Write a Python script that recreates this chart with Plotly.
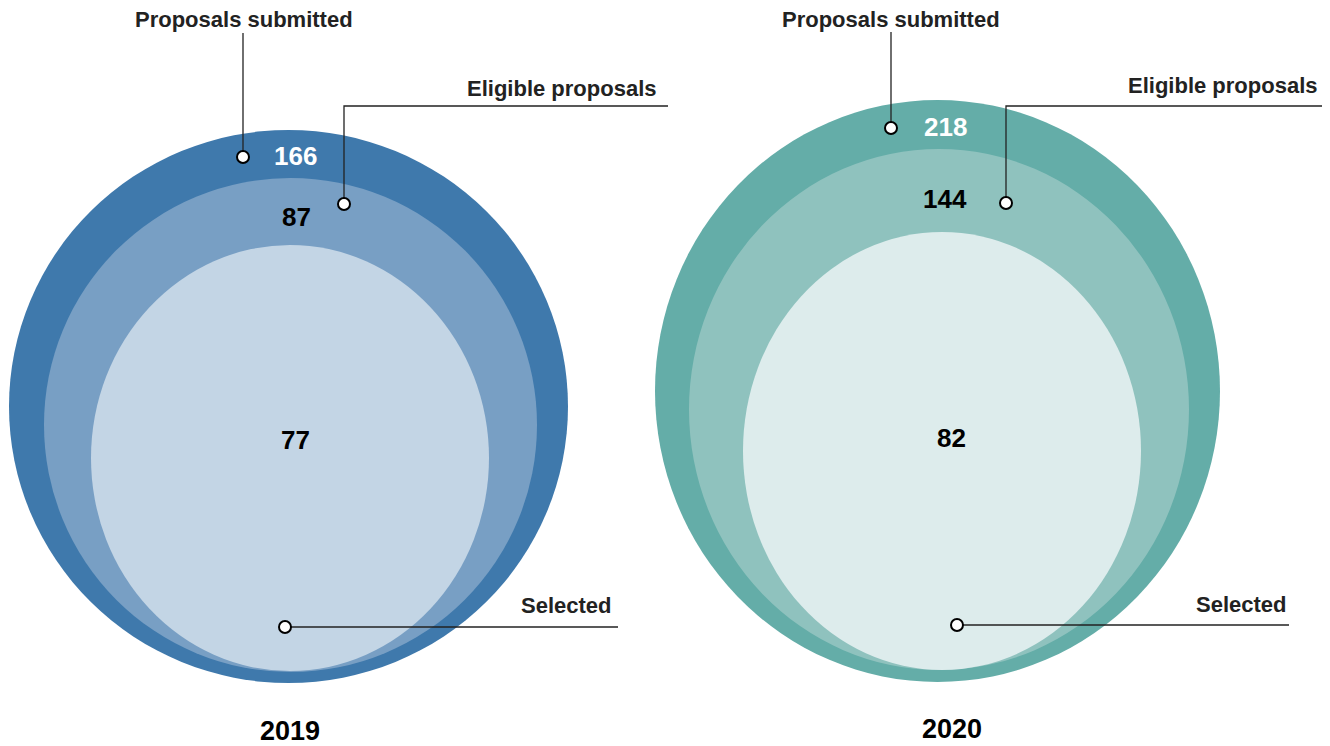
import plotly.graph_objects as go

# ---------------- data ----------------
years = ["2019", "2020"]
submitted = [166, 218]
eligible = [87, 144]
selected = [77, 82]
stage_labels = ["Proposals submitted", "Eligible proposals", "Selected"]

# ---------------- styling / layout (pixel space) ----------------
W, H = 1330, 746
OFF = 8  # page body margin of the html page
palettes = [
    ["#3F79AC", "#789FC4", "#C3D5E5"],   # 2019: outer, middle, inner
    ["#64ADA8", "#8FC2BE", "#DDECEC"],   # 2020
]
# ellipse geometry per panel: (cx, cy, rx, ry) for outer, middle, inner
geom = [
    [(288.5, 406.5, 279.5, 276.5), (290.5, 425, 246.5, 247), (290, 458, 199, 213)],
    [(937.5, 391, 282.5, 291), (939, 409.5, 250, 260.5), (942, 451, 199, 219)],
]
# number label positions (outer, middle, inner)
num_pos = [
    [(295, 156), (296, 217), (295, 440)],
    [(945, 127), (945, 199), (951, 438)],
]
num_colors = ["white", "black", "black"]
# leader callouts per panel: label pos, polyline, marker
callouts = [
    [
        dict(text_xy=(244, 19), line=[(243, 33), (243, 157)], dot=(243, 157)),
        dict(text_xy=(561, 88), line=[(668, 106), (344, 106), (344, 204)], dot=(344, 204)),
        dict(text_xy=(566, 605), line=[(618, 627), (285, 627)], dot=(285, 627)),
    ],
    [
        dict(text_xy=(891, 19), line=[(891, 32), (891, 128)], dot=(891, 128)),
        dict(text_xy=(1222, 85), line=[(1330, 106), (1006, 106), (1006, 203)], dot=(1006, 203)),
        dict(text_xy=(1241, 604), line=[(1289, 625), (957, 625)], dot=(957, 625)),
    ],
]
year_pos = [(290, 731), (952, 729)]

FONT = "Liberation Sans, Arial, sans-serif"

fig = go.Figure()
shapes = []
for p in range(2):
    for k in range(3):
        cx, cy, rx, ry = geom[p][k]
        shapes.append(dict(type="circle", xref="x", yref="y",
                           x0=cx - rx, x1=cx + rx, y0=cy - ry, y1=cy + ry,
                           fillcolor=palettes[p][k], line=dict(width=0), layer="below"))

annotations = []
for p in range(2):
    vals = [submitted[p], eligible[p], selected[p]]
    for k in range(3):
        x, y = num_pos[p][k]
        annotations.append(dict(x=x, y=y, xref="x", yref="y", text=f"<b>{vals[k]}</b>",
                                showarrow=False, font=dict(family=FONT, size=26, color=num_colors[k]),
                                xanchor="center", yanchor="middle", borderpad=0))
    for k, c in enumerate(callouts[p]):
        xs = [pt[0] for pt in c["line"]]
        ys = [pt[1] for pt in c["line"]]
        fig.add_trace(go.Scatter(x=xs, y=ys, mode="lines",
                                 line=dict(color="#222222", width=1.3),
                                 hoverinfo="skip", showlegend=False, cliponaxis=False))
        fig.add_trace(go.Scatter(x=[c["dot"][0]], y=[c["dot"][1]], mode="markers",
                                 marker=dict(size=12, color="white",
                                             line=dict(color="black", width=2)),
                                 hoverinfo="skip", showlegend=False))
        tx, ty = c["text_xy"]
        annotations.append(dict(x=tx, y=ty, xref="x", yref="y", text=f"<b>{stage_labels[k]}</b>",
                                showarrow=False, font=dict(family=FONT, size=22, color="#222222"),
                                xanchor="center", yanchor="middle", borderpad=0))
    yx, yy = year_pos[p]
    annotations.append(dict(x=yx, y=yy, xref="x", yref="y", text=f"<b>{years[p]}</b>",
                            showarrow=False, font=dict(family=FONT, size=27, color="black"),
                            xanchor="center", yanchor="middle", borderpad=0))

fig.update_layout(
    width=W - OFF, height=H - OFF,
    margin=dict(l=0, r=0, t=0, b=0),
    paper_bgcolor="white", plot_bgcolor="white",
    shapes=shapes, annotations=annotations,
    showlegend=False,
    xaxis=dict(range=[OFF, W], visible=False, fixedrange=True),
    yaxis=dict(range=[H, OFF], visible=False, fixedrange=True),
)

fig.write_html("out.html", config={"displayModeBar": False})
